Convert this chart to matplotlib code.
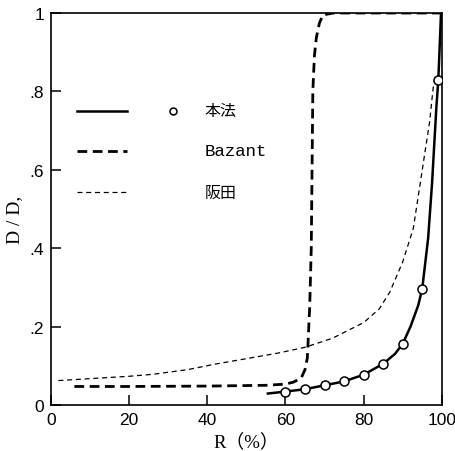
import matplotlib.pyplot as plt

# 本法 (solid line + circles)
r_hon = [55.5, 60, 65, 70, 75, 80, 85, 88, 90, 92, 94, 95, 96.5, 97.5, 98.6, 99.1, 99.6, 99.8]
d_hon = [0.029, 0.034, 0.040, 0.050, 0.060, 0.077, 0.105, 0.130, 0.156, 0.200, 0.255, 0.297,
         0.425, 0.565, 0.758, 0.828, 0.95, 1.0]
r_pts = [60, 65, 70, 75, 80, 85, 90, 95, 99.1]
d_pts = [0.034, 0.040, 0.050, 0.060, 0.077, 0.105, 0.156, 0.297, 0.828]

# Bazant
r_baz = [6, 20, 40, 55, 60, 62, 64, 65, 65.6, 66.2, 66.6, 66.8, 67.0, 67.4, 67.9, 68.7, 69.6, 72.2, 100]
d_baz = [0.047, 0.047, 0.048, 0.050, 0.053, 0.058, 0.068, 0.09, 0.12, 0.25, 0.40, 0.60, 0.80,
         0.89, 0.937, 0.975, 0.995, 1.0, 1.0]

# 阪田
r_sak = [1.9, 10, 20, 26, 35, 42, 50, 58, 65, 72, 80, 84, 86.7, 90, 92.7, 94.4, 95.2, 96.9, 97.8, 98.4]
d_sak = [0.062, 0.067, 0.073, 0.078, 0.090, 0.104, 0.118, 0.132, 0.147, 0.170, 0.210, 0.245,
         0.288, 0.365, 0.450, 0.560, 0.613, 0.724, 0.810, 0.840]

xticks = [0, 20, 40, 60, 80, 100]
yticks = [0, 0.2, 0.4, 0.6, 0.8, 1.0]
ytick_labels = ['0', '.2', '.4', '.6', '.8', '1']

num_font = ['Liberation Sans', 'DejaVu Sans']
cjk = ['Noto Sans CJK JP', 'DejaVu Sans']

fig = plt.figure(figsize=(4.55, 4.52), dpi=100)
ax = fig.add_axes([0.112, 0.102, 0.859, 0.867])

ax.plot(r_sak, d_sak, color='black', lw=0.9, dashes=(4, 3))
ax.plot(r_baz, d_baz, color='black', lw=2.0, dashes=(3.5, 2))
ax.plot(r_hon, d_hon, color='black', lw=1.8)
ax.plot(r_pts, d_pts, 'o', color='black', mfc='white', ms=6.5, mew=1.1, zorder=5)

# legend drawn by hand
tr = ax.transAxes
ax.plot([0.066, 0.194], [0.751, 0.751], color='black', lw=1.8, transform=tr)
ax.plot([0.066, 0.194], [0.649, 0.649], color='black', lw=2.0, dashes=(3.5, 2), transform=tr)
ax.plot([0.066, 0.194], [0.543, 0.543], color='black', lw=0.9, dashes=(4, 3), transform=tr)
ax.plot([0.312], [0.751], 'o', color='black', mfc='white', ms=5, mew=1.1, transform=tr)
ax.text(0.394, 0.751, '本法', transform=tr, va='center', ha='left', fontsize=11.5, family=cjk)
ax.text(0.394, 0.649, 'Bazant', transform=tr, va='center', ha='left', fontsize=12.5,
        family=['Liberation Mono', 'DejaVu Sans Mono'])
ax.text(0.394, 0.543, '阪田', transform=tr, va='center', ha='left', fontsize=11.5, family=cjk)

ax.set_xlim(0, 100)
ax.set_ylim(0, 1)
ax.set_xticks(xticks)
ax.set_xticklabels([str(v) for v in xticks], family=num_font, fontsize=12.5)
ax.set_yticks(yticks)
ax.set_yticklabels(ytick_labels, family=num_font, fontsize=12.5)
ax.tick_params(direction='in', length=7, width=1.1, pad=5)
for s in ax.spines.values():
    s.set_linewidth(1.2)

fig.text(0.5418, 1 - 442 / 452, 'R（%）', ha='center', va='center', fontsize=13.5,
         family=['Liberation Serif', 'Noto Sans CJK JP'])
fig.text(15 / 455, 1 - 220 / 452, 'D / D,', ha='center', va='center', rotation=90,
         fontsize=14, family=['Liberation Serif', 'DejaVu Serif'])

fig.savefig('out.png', dpi=100)
